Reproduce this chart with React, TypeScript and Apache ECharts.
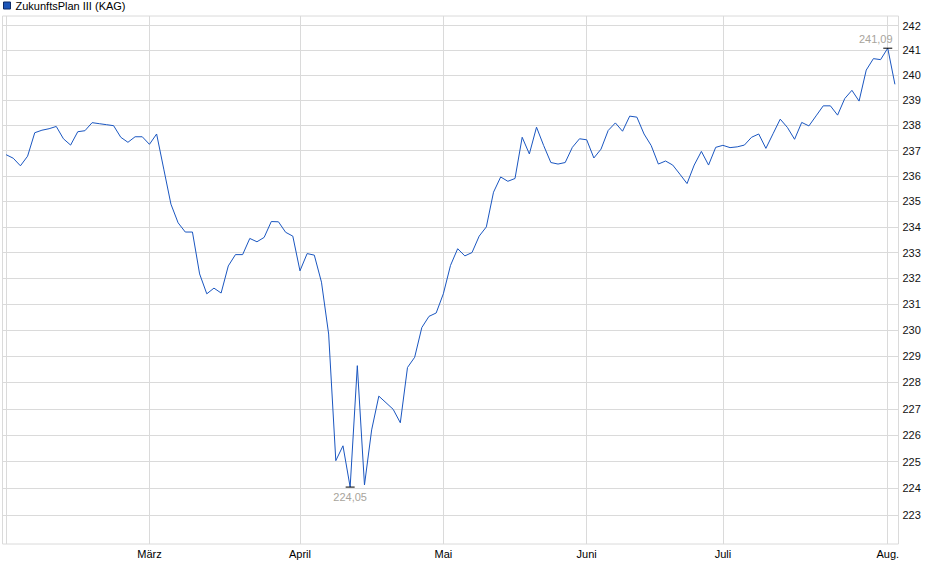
import { useEffect, useRef } from 'react';
import * as echarts from 'echarts';

// Trading days: Feb 3 2025 .. Aug 4 2025, weekdays without exchange holidays
const firstDay = '2025-02-03';
const lastDay = '2025-08-04';
const holidays = ['2025-04-18', '2025-04-21', '2025-05-01', '2025-05-29', '2025-06-09', '2025-06-19'];

const monthNames = ['Jan.', 'Feb.', 'März', 'April', 'Mai', 'Juni', 'Juli', 'Aug.', 'Sep.', 'Okt.', 'Nov.', 'Dez.'];

const values = [
  236.84, 236.7, 236.4, 236.78, 237.71, 237.81, 237.87, 237.96, 237.47, 237.22,
  237.75, 237.79, 238.11, 238.07, 238.03, 237.99, 237.53, 237.33, 237.55, 237.55,
  237.25, 237.66, 236.27, 234.89, 234.16, 233.8, 233.8, 232.17, 231.4, 231.62,
  231.43, 232.48, 232.92, 232.92, 233.55, 233.42, 233.59, 234.21, 234.2, 233.79,
  233.64, 232.29, 232.96, 232.9, 231.85, 229.85, 225.04, 225.6, 224.05, 228.64,
  224.13, 226.2, 227.48, 227.23, 226.98, 226.47, 228.57, 228.96, 230.1, 230.53,
  230.66, 231.4, 232.5, 233.15, 232.87, 233.0, 233.64, 234.0, 235.36, 235.96,
  235.79, 235.9, 237.53, 236.87, 237.93, 237.2, 236.53, 236.47, 236.53, 237.13,
  237.47, 237.43, 236.71, 237.06, 237.8, 238.1, 237.77, 238.37, 238.33, 237.66,
  237.2, 236.47, 236.59, 236.43, 236.07, 235.7, 236.43, 236.97, 236.43, 237.13,
  237.21, 237.12, 237.15, 237.22, 237.53, 237.66, 237.09, 237.67, 238.25, 237.92,
  237.45, 238.12, 237.98, 238.38, 238.78, 238.78, 238.41, 239.07, 239.4, 238.97,
  240.21, 240.67, 240.63, 241.09, 239.64,
];

const yTicks = [223, 224, 225, 226, 227, 228, 229, 230, 231, 232, 233, 234, 235, 236, 237, 238, 239, 240, 241, 242];
const yMin = 221.93;
const yMax = 242.39;

const seriesName = 'ZukunftsPlan III (KAG)';
const lineColor = '#1a56c0';
const gridColor = '#dadada';

function tradingDays() {
  const out: string[] = [];
  const d = new Date(firstDay + 'T00:00:00Z');
  const end = new Date(lastDay + 'T00:00:00Z');
  while (d <= end) {
    const s = d.toISOString().slice(0, 10);
    const wd = d.getUTCDay();
    if (wd !== 0 && wd !== 6 && !holidays.includes(s)) out.push(s);
    d.setUTCDate(d.getUTCDate() + 1);
  }
  return out;
}

const fmt = (v: number) => v.toFixed(2).replace('.', ',');

export default function App() {
  const chartRef = useRef<HTMLDivElement>(null);

  useEffect(() => {
    document.body.style.margin = '0';
    if (!chartRef.current) return;
    const chart = echarts.init(chartRef.current, null, { renderer: 'svg' });

    const dates = tradingDays();
    // first trading day of each month
    const monthStarts = dates
      .map((d, i) => (i === 0 || d.slice(5, 7) !== dates[i - 1].slice(5, 7) ? i : -1))
      .filter((i) => i >= 0);
    const labelIdx = monthStarts.filter((i) => i > 0);

    const font = '"Liberation Sans", Arial, sans-serif';

    chart.setOption({
      animation: false,
      textStyle: { fontFamily: font },
      legend: {
        data: [seriesName],
        left: 3,
        top: 0,
        padding: 0,
        icon: 'rect',
        itemWidth: 7,
        itemHeight: 7,
        itemStyle: { color: '#1c55b8', borderColor: '#0d2a66', borderWidth: 1 },
        textStyle: { fontSize: 11, color: '#000', fontFamily: font, padding: [1, 0, 0, 0] },
        selectedMode: false,
      },
      tooltip: { trigger: 'axis' },
      grid: {
        left: 2.5,
        right: 41.5,
        top: 16,
        bottom: 35,
        show: true,
        borderColor: gridColor,
        borderWidth: 1,
        outerBoundsMode: 'none',
      },
      xAxis: {
        type: 'category',
        data: dates,
        boundaryGap: true,
        axisLine: { show: false },
        axisTick: { show: false },
        splitLine: { show: false },
        axisLabel: {
          interval: (i: number) => labelIdx.includes(i),
          formatter: (v: string) => monthNames[Number(v.slice(5, 7)) - 1],
          color: '#000',
          fontSize: 11,
          margin: 4,
          fontFamily: font,
        },
      },
      yAxis: {
        type: 'log',
        position: 'right',
        min: yMin,
        max: yMax,
        axisLine: { show: false },
        axisTick: { show: false },
        axisLabel: { show: false },
        splitLine: { show: false },
      },
      series: [
        {
          name: seriesName,
          type: 'line',
          data: values,
          symbol: 'none',
          lineStyle: { width: 1, color: lineColor },
          itemStyle: { color: lineColor },
          markLine: {
            silent: true,
            z: 1,
            symbol: 'none',
            precision: 0,
            lineStyle: { color: gridColor, width: 1, type: 'solid' },
            emphasis: { disabled: true },
            label: {
              show: true,
              position: 'end',
              distance: 4,
              color: '#111',
              fontSize: 11,
              fontFamily: font,
              formatter: (p: any) => String(p.value),
            },
            data: [
              ...monthStarts.map((i) => ({ xAxis: dates[i], label: { show: false } })),
              ...yTicks.map((v) => ({ yAxis: v })),
            ],
          },
          markPoint: {
            silent: true,
            symbol: 'rect',
            symbolSize: [9, 1],
            itemStyle: { color: '#000' },
            label: {
              color: '#a8a49c',
              fontSize: 11,
              fontFamily: font,
              formatter: (p: any) => fmt(p.value),
            },
            data: [
              { type: 'max', label: { position: 'top', distance: 3, offset: [-12, 0] } },
              { type: 'min', label: { position: 'bottom', distance: 4 } },
            ],
          },
        },
      ],
    });

    return () => {
      chart.dispose();
    };
  }, []);

  return <div ref={chartRef} style={{ width: 940, height: 579 }} />;
}
